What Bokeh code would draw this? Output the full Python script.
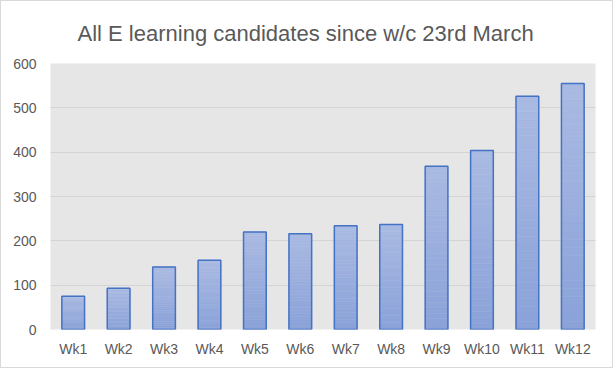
from bokeh.plotting import figure
from bokeh.models import ColumnDataSource, FactorRange, Range1d, FixedTicker
from bokeh.embed import file_html
from bokeh.resources import INLINE

weeks = ["Wk1", "Wk2", "Wk3", "Wk4", "Wk5", "Wk6", "Wk7", "Wk8", "Wk9", "Wk10", "Wk11", "Wk12"]
candidates = [75, 93, 141, 156, 220, 216, 234, 237, 368, 404, 526, 555]
y_ticks = [0, 100, 200, 300, 400, 500, 600]

# gradient fill (light at top, darker at bottom) built as thin slices of each bar
TOP_RGB = (0xAA, 0xBA, 0xE2)
BOT_RGB = (0x8A, 0xA2, 0xD9)
N = 30
sx, sb, st, sc = [], [], [], []
for w, v in zip(weeks, candidates):
    for k in range(N):
        f = (k + 0.5) / N
        rgb = tuple(round(b + (t - b) * f) for b, t in zip(BOT_RGB, TOP_RGB))
        sx.append(w)
        sb.append(v * k / N)
        st.append(v * (k + 1) / N)
        sc.append("#%02x%02x%02x" % rgb)
slices = ColumnDataSource(data=dict(week=sx, bottom=sb, top=st, color=sc))
source = ColumnDataSource(data=dict(week=weeks, value=candidates))

p = figure(
    x_range=FactorRange(*weeks, range_padding=0),
    y_range=Range1d(0, 600),
    frame_width=545, frame_height=266,
    min_border_left=49, min_border_right=17,
    min_border_top=62, min_border_bottom=38,
    output_backend="svg", toolbar_location=None,
    title="All E learning candidates since w/c 23rd March",
)

p.title.align = "left"
p.title.text_font = "Liberation Sans"
p.title.text_font_size = "22px"
p.title.text_font_style = "normal"
p.title.text_color = "#595959"
p.title.offset = 27
p.title.standoff = 35

p.vbar(x="week", bottom="bottom", top="top", width=0.5, source=slices,
       fill_color="color", line_color="color", line_width=0.5)
p.vbar(x="week", top="value", width=0.5, source=source,
       fill_color=None, line_color="#4472c4", line_width=1.5)

p.background_fill_color = "#e6e6e6"
p.border_fill_color = "white"
p.outline_line_color = None
p.styles = {"border": "1px solid #d9d9d9"}

p.yaxis.ticker = FixedTicker(ticks=y_ticks)
p.ygrid.ticker = FixedTicker(ticks=y_ticks)
p.ygrid.grid_line_color = "#d4d4d4"
p.xgrid.grid_line_color = None

for ax in (p.xaxis, p.yaxis):
    ax.axis_line_color = None
    ax.major_tick_line_color = None
    ax.minor_tick_line_color = None
    ax.major_tick_out = 0
    ax.major_tick_in = 0
    ax.minor_tick_out = 0
    ax.major_label_text_color = "#595959"
    ax.major_label_text_font = "Liberation Sans"
    ax.major_label_text_font_size = "14px"

p.yaxis.major_label_standoff = 14
p.xaxis.major_label_standoff = 11

open("out.html", "w").write(file_html(p, INLINE))
